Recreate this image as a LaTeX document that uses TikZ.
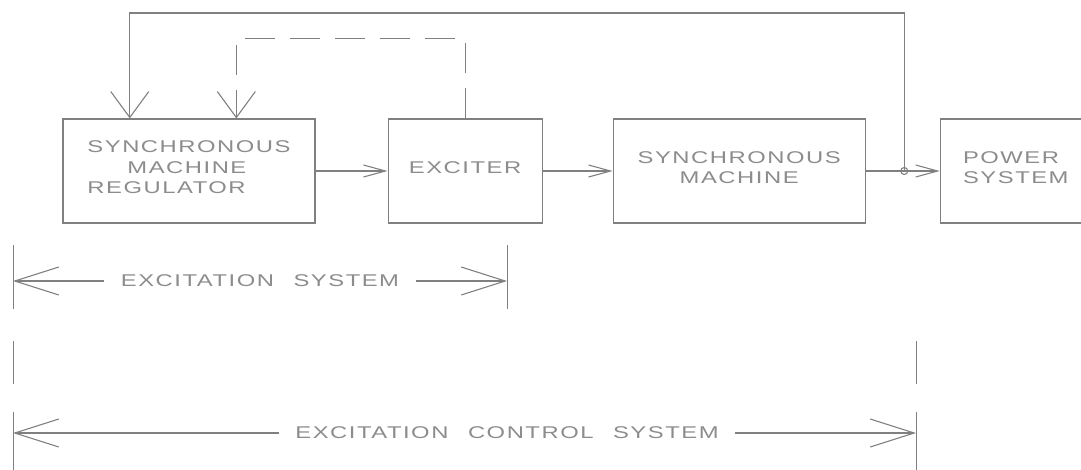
\documentclass[tikz,border=0pt]{standalone}
\usepackage{fontspec}
\setmainfont{Liberation Sans}[FakeStretch=1.4, LetterSpace=9, WordSpace=2.4]
\usepackage{tikz}
\usetikzlibrary{arrows.meta,positioning,calc}
\definecolor{linegray}{RGB}{128,128,128}
\definecolor{textgray}{RGB}{140,140,140}

\begin{document}
\begin{tikzpicture}[
    x=1pt, y=1pt,
    color=linegray, line width=1.1pt,
    block/.style={rectangle, draw=linegray, minimum width=252pt, minimum height=104pt, text depth=7pt, align=center, text=textgray, font=\fontsize{17}{20.5}\selectfont},
    dimlabel/.style={text=textgray, inner xsep=16pt, font=\fontsize{17}{20.5}\selectfont},
    arrow/.style={-{Straight Barb[length=22pt,width=12pt]}},
    fbarrow/.style={-{Straight Barb[length=26pt,width=38pt]}},
    dimarrow/.style={-{Straight Barb[length=44pt,width=28pt]}},
    tickline/.style={line width=1pt}
]
    \useasboundingbox (0,0) rectangle (1081,-469);

    % main chain
    \node[block, align=left] (reg) at (189,-171) {SYNCHRONOUS\\\hspace*{40pt}MACHINE\\REGULATOR};
    \node[block, minimum width=154pt, right=72pt of reg] (exc) {EXCITER};
    \node[block, right=70pt of exc] (sm) {SYNCHRONOUS\\MACHINE};
    \node[block, minimum width=151pt, align=left, right=74pt of sm] (ps) {POWER\\SYSTEM};
    \draw[arrow] (reg) -- (exc);
    \draw[arrow] (exc) -- (sm);
    \draw[arrow] (sm) -- (ps);

    % feedback paths
    \coordinate (jn) at ($(sm.east)!0.52!(ps.west)$);
    \draw (jn) circle (3.5);
    \draw[fbarrow] (jn) -- ++(0,158) -| ($(reg.north west)!0.266!(reg.north east)$);
    \draw[fbarrow, dash pattern=on 30pt off 15pt] (exc.north) -- ++(0,80) -| ($(reg.north west)!0.687!(reg.north east)$);

    % excitation system
    \coordinate (esL) at (13,-281);
    \coordinate (esR) at (507,-281);
    \node[dimlabel] (es) at ($(esL)!0.5!(esR)$) {EXCITATION SYSTEM};
    \draw[dimarrow] (es.west) -- (esL);
    \draw[dimarrow] (es.east) -- (esR);
    \foreach \c in {esL,esR}
        \draw[tickline] (\c) ++(0,36) -- ++(0,-64);

    % excitation control system
    \coordinate (ecsL) at (13,-433);
    \coordinate (ecsR) at (916,-433);
    \node[dimlabel] (ecs) at (507,-433) {EXCITATION CONTROL SYSTEM};
    \draw[dimarrow] (ecs.west) -- (ecsL);
    \draw[dimarrow] (ecs.east) -- (ecsR);
    \foreach \c in {ecsL,ecsR} {
        \draw[tickline] (\c) ++(0,92) -- ++(0,-43);
        \draw[tickline] (\c) ++(0,21) -- ++(0,-60);
    }
\end{tikzpicture}
\end{document}
